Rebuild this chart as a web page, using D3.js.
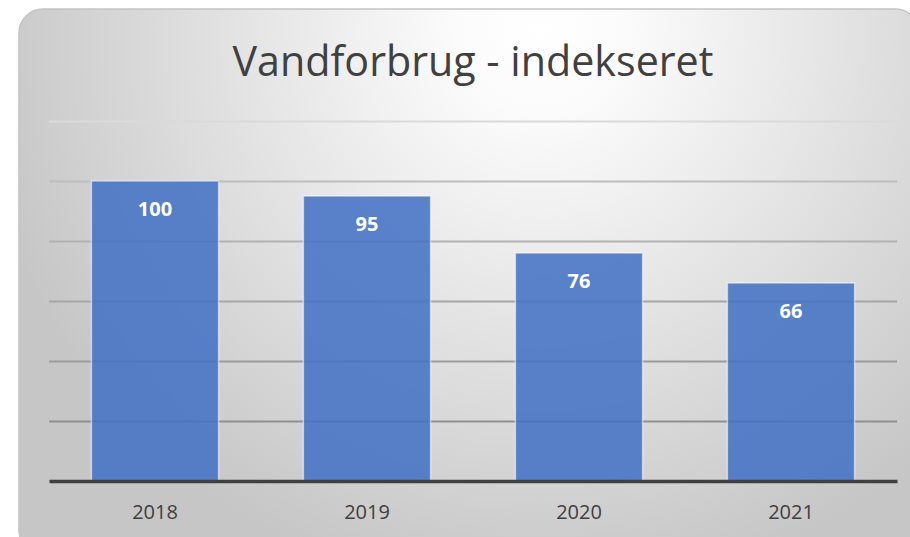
<!DOCTYPE html>
<html>
<head>
<meta charset="utf-8">
<script src="https://cdn.jsdelivr.net/npm/d3@7"></script>
<style>
    body { margin: 0; background: #ffffff; }
    svg { display: block; }
</style>
</head>
<body>
<svg id="svgChart"></svg>
<script>
// DATA /////////////////////////////////////////////////////////////////////////////////

var years = ["2018", "2019", "2020", "2021"];
var index_values = [100, 95, 76, 66];
var grid_ticks = [20, 40, 60, 80, 100, 120];
var chart_title = "Vandforbrug - indekseret";

var dataset = years.map(function (y, i) { return { year: y, value: index_values[i] }; });

// SETUP ////////////////////////////////////////////////////////////////////////////////

const WIDTH = 910, HEIGHT = 537;
const PLOT_LEFT = 49, PLOT_RIGHT = 897, PLOT_TOP = 121, PLOT_BOTTOM = 481;

var svg = d3.select('#svgChart')
    .attr('width', WIDTH)
    .attr('height', HEIGHT);

var defs = svg.append("defs");

// background gradient, white near the title, grey at the edges
var bg_grad = defs.append("radialGradient")
    .attr("id", "bgGrad")
    .attr("gradientUnits", "userSpaceOnUse")
    .attr("cx", 540).attr("cy", 30).attr("r", 570);
bg_grad.append("stop").attr("offset", "0").attr("stop-color", "#ffffff");
bg_grad.append("stop").attr("offset", "0.15").attr("stop-color", "#fbfbfb");
bg_grad.append("stop").attr("offset", "1").attr("stop-color", "#c6c6c6");

// chart area with rounded corners
svg.append("rect")
    .attr("x", 19).attr("y", 9)
    .attr("width", 900).attr("height", 545)
    .attr("rx", 24).attr("ry", 24)
    .attr("fill", "url(#bgGrad)")
    .attr("stroke", "#c4c4c4")
    .attr("stroke-width", 1.5);

// scales
var x = d3.scaleBand()
    .domain(years)
    .range([PLOT_LEFT, PLOT_RIGHT])
    .paddingInner(0.4)
    .paddingOuter(0.2);

var y = d3.scaleLinear()
    .domain([0, 120])
    .range([PLOT_BOTTOM, PLOT_TOP]);

// gridlines get darker towards the bottom
var grid_colour = d3.scaleLinear()
    .domain([120, 100, 60, 20])
    .range(["#dadada", "#bdbdbd", "#a6a6a6", "#8f8f8f"]);

// TITLE ////////////////////////////////////////////////////////////////////////////////

var title = svg.append("text")
    .attr("x", (PLOT_LEFT + PLOT_RIGHT) / 2)
    .attr("y", 76)
    .style("text-anchor", "middle")
    .style("font-family", "'Open Sans', sans-serif")
    .style("font-size", "36px")
    .style("fill", "#404040")
    .text(chart_title);

// fit the title to the width it has in the picture
var title_w = title.node().getComputedTextLength();
title.style("font-size", (36 * 481 / title_w) + "px");

// GRID /////////////////////////////////////////////////////////////////////////////////

svg.append("g")
    .attr("class", "grid")
    .attr("transform", "translate(" + PLOT_LEFT + ",0)")
    .call(d3.axisRight(y)
        .tickValues(grid_ticks)
        .tickSize(PLOT_RIGHT - PLOT_LEFT)
        .tickFormat(""))
    .call(function (g) { g.select(".domain").remove(); })
    .selectAll("line")
        .attr("stroke", function (d) { return grid_colour(d); })
        .attr("stroke-width", 2);

// BARS /////////////////////////////////////////////////////////////////////////////////

svg.append("g")
    .selectAll("rect")
    .data(dataset)
    .enter().append("rect")
        .attr("class", "bar")
        .attr("x", function (d) { return x(d.year); })
        .attr("y", function (d) { return y(d.value); })
        .attr("width", x.bandwidth())
        .attr("height", function (d) { return y(0) - y(d.value); })
        .attr("fill", "#4472c4")
        .attr("fill-opacity", 0.87)
        .attr("stroke", "#ffffff")
        .attr("stroke-opacity", 0.55)
        .attr("stroke-width", 1.5);

// value labels inside the bars
svg.append("g")
    .selectAll("text")
    .data(dataset)
    .enter().append("text")
        .attr("x", function (d) { return x(d.year) + x.bandwidth() / 2; })
        .attr("y", function (d) { return y(d.value) + 35; })
        .style("text-anchor", "middle")
        .style("font-family", "'Open Sans', sans-serif")
        .style("font-size", "20px")
        .style("font-weight", "700")
        .style("fill", "#ffffff")
        .text(function (d) { return d.value; });

// X AXIS ///////////////////////////////////////////////////////////////////////////////

var xAxis = svg.append("g")
    .attr("class", "axis")
    .attr("transform", "translate(0," + PLOT_BOTTOM + ")")
    .call(d3.axisBottom(x).tickSize(0).tickSizeOuter(0).tickPadding(24));

xAxis.select(".domain")
    .attr("stroke", "#404040")
    .attr("stroke-width", 3.5);

xAxis.selectAll("text")
    .style("font-family", "'Open Sans', sans-serif")
    .style("font-size", "20px")
    .style("fill", "#404040");

</script>
</body>
</html>
